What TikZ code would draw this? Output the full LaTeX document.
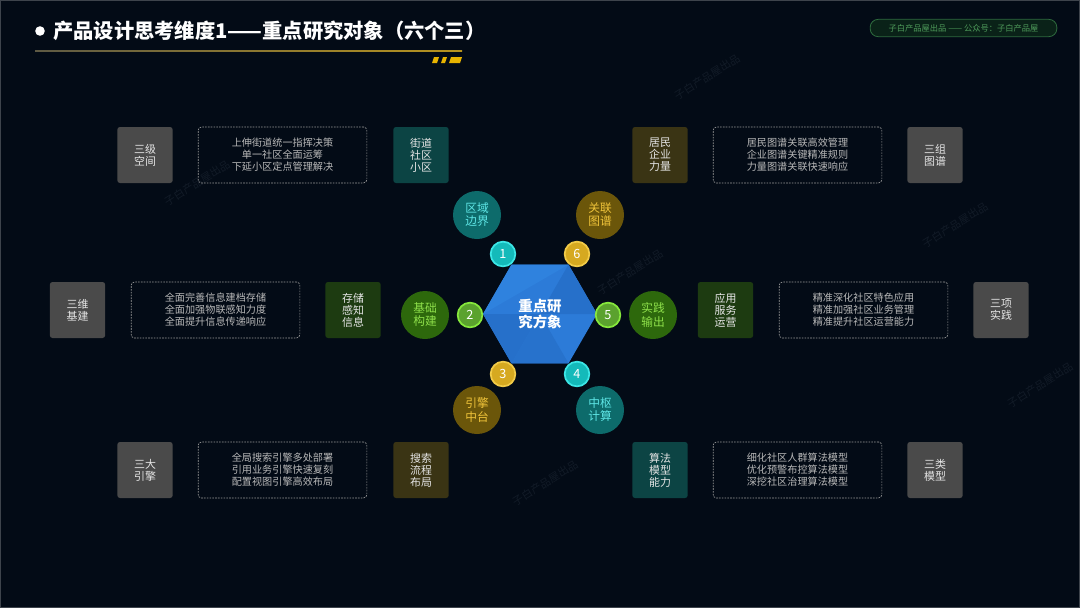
\documentclass[tikz,border=0pt]{standalone}
\usepackage{fontspec}
\setmainfont{Noto Sans CJK SC}
\usetikzlibrary{shapes.geometric}
\definecolor{bg}{HTML}{030B16}
\definecolor{framec}{HTML}{3E444C}
\definecolor{boxgray}{HTML}{4A4A4A}
\definecolor{boxteal}{HTML}{0C4444}
\definecolor{boxolive}{HTML}{3A3414}
\definecolor{boxgreen}{HTML}{1D3B11}
\definecolor{dashc}{HTML}{9A9A9A}
\definecolor{dashtext}{HTML}{B8B8B8}
\definecolor{boxtext}{HTML}{E6E6E6}
\definecolor{hexA}{HTML}{2C7BD8}
\definecolor{hexB}{HTML}{2670CA}
\definecolor{hexC}{HTML}{2F82DE}
\definecolor{ctealfill}{HTML}{0D6B6B}
\definecolor{ctealtext}{HTML}{5EE6E6}
\definecolor{colivefill}{HTML}{6B560A}
\definecolor{colivetext}{HTML}{F0C43A}
\definecolor{cgreenfill}{HTML}{2D680C}
\definecolor{cgreentext}{HTML}{8EE04A}
\definecolor{ntealfill}{HTML}{14BABA}
\definecolor{ntealline}{HTML}{3CE6E6}
\definecolor{nyelfill}{HTML}{D6A920}
\definecolor{nyelline}{HTML}{F2CB48}
\definecolor{ngrnfill}{HTML}{5BA22E}
\definecolor{ngrnline}{HTML}{86E83C}
\definecolor{goldline}{HTML}{B8941E}
\definecolor{goldgray}{HTML}{5E5A44}
\definecolor{goldmark}{HTML}{E8B400}
\definecolor{badgefill}{HTML}{0A2218}
\definecolor{badgeline}{HTML}{2E6B3E}
\definecolor{badgetext}{HTML}{4E9A5A}
\definecolor{wmark}{HTML}{121B27}
\tikzset{
  sqbox/.style={rectangle, rounded corners=2pt, minimum width=41.5pt, minimum height=42pt,
    inner sep=0pt, align=center, text=boxtext, font=\fontsize{8.2}{9}\selectfont},
  graybox/.style={sqbox, fill=boxgray},
  tealbox/.style={sqbox, fill=boxteal},
  olivebox/.style={sqbox, fill=boxolive},
  greenbox/.style={sqbox, fill=boxgreen},
  descbox/.style={rectangle, rounded corners=2.5pt, minimum width=126.5pt, minimum height=42pt,
    inner sep=0pt, align=center, draw=dashc, line width=0.5pt, dash pattern=on 1.2pt off 0.9pt,
    text=dashtext, font=\fontsize{7.6}{9}\selectfont},
  outer/.style={circle, minimum size=36pt, inner sep=0pt, align=center,
    font=\fontsize{8.8}{9.8}\selectfont},
  oteal/.style={outer, fill=ctealfill, text=ctealtext},
  oolive/.style={outer, fill=colivefill, text=colivetext},
  ogreen/.style={outer, fill=cgreenfill, text=cgreentext},
  numc/.style={circle, minimum size=18.5pt, inner sep=0pt, line width=1.3pt, text=white,
    font=\fontsize{9.5}{10}\selectfont},
  nteal/.style={numc, fill=ntealfill, draw=ntealline},
  nyel/.style={numc, fill=nyelfill, draw=nyelline},
  ngrn/.style={numc, fill=ngrnfill, draw=ngrnline},
  wm/.style={text=wmark, rotate=32, font=\fontsize{8}{9}\selectfont, inner sep=0pt}
}
\begin{document}
\begin{tikzpicture}[x=0.75pt, y=-0.75pt]
\useasboundingbox (0,0) rectangle (1080,608);
\fill[bg] (0,0) rectangle (1080,608);
\draw[framec, line width=0.75pt] (0.5,0.5) rectangle (1079.5,607.5);

% watermarks
\node[wm] (w1) at (707,77) {子白产品屋出品};
\node[wm] (w2) at (197,183) {子白产品屋出品};
\node[wm] (w3) at (630,272) {子白产品屋出品};
\node[wm] (w4) at (955,225) {子白产品屋出品};
\node[wm] (w6) at (1040,385) {子白产品屋出品};
\node[wm] (w7) at (545,483) {子白产品屋出品};

% title
\fill[white] (40,31) circle (4.8);
\node[anchor=west, text=white, inner sep=0pt, font=\fontsize{15.2}{16}\bfseries\selectfont] (title) at (53,31) {产品设计思考维度1——重点研究对象（六个三）};
\shade[left color=goldgray, right color=goldline] (35,50.5) rectangle (462,51.6);
\fill[goldmark] (434,57) -- (439,57) -- (437,63) -- (432,63) -- cycle;
\fill[goldmark] (443,57) -- (447,57) -- (445,63) -- (441,63) -- cycle;
\fill[goldmark] (451,57) -- (462,57) -- (460,63) -- (449,63) -- cycle;

% badge
\node[rectangle, rounded corners=6pt, minimum width=140pt, minimum height=13pt, inner sep=0pt,
  fill=badgefill, draw=badgeline, line width=0.6pt, text=badgetext,
  font=\fontsize{6.2}{6.5}\selectfont] (badge) at (963.5,28) {子白产品屋出品 —— 公众号：子白产品屋};

% top row
\node[graybox] (g1) at (145,155) {三级\\空间};
\node[descbox] (d1) at (282.5,155) {上伸街道统一指挥决策\\单一社区全面运筹\\下延小区定点管理解决};
\node[tealbox] (t1) at (421,155) {街道\\社区\\小区};
\node[olivebox] (o1) at (660,155) {居民\\企业\\力量};
\node[descbox] (d6) at (797.5,155) {居民图谱关联高效管理\\企业图谱关键精准规则\\力量图谱关联快速响应};
\node[graybox] (g6) at (935,155) {三组\\图谱};

% middle row
\node[graybox] (g2) at (77.5,310) {三维\\基建};
\node[descbox] (d2) at (215.5,310) {全面完善信息建档存储\\全面加强物联感知力度\\全面提升信息传递响应};
\node[greenbox] (s2) at (353,310) {存储\\感知\\信息};
\node[greenbox] (s5) at (725.5,310) {应用\\服务\\运营};
\node[descbox] (d5) at (863.5,310) {精准深化社区特色应用\\精准加强社区业务管理\\精准提升社区运营能力};
\node[graybox] (g5) at (1001,310) {三项\\实践};

% bottom row
\node[graybox] (g3) at (145,470) {三大\\引擎};
\node[descbox] (d3) at (282.5,470) {全局搜索引擎多处部署\\引用业务引擎快速复刻\\配置视图引擎高效布局};
\node[olivebox] (o3) at (421,470) {搜索\\流程\\布局};
\node[tealbox] (t4) at (660,470) {算法\\模型\\能力};
\node[descbox] (d4) at (797.5,470) {细化社区人群算法模型\\优化预警布控算法模型\\深挖社区治理算法模型};
\node[graybox] (g4) at (935,470) {三类\\模型};

% hexagon
\coordinate (hc) at (540,314);
\coordinate (v0) at (597,314);
\coordinate (v1) at (568.5,264.6);
\coordinate (v2) at (511.5,264.6);
\coordinate (v3) at (483,314);
\coordinate (v4) at (511.5,363.4);
\coordinate (v5) at (568.5,363.4);
\fill[hexA] (v0) -- (v1) -- (v2) -- (v3) -- (v4) -- (v5) -- cycle;
\fill[hexC] (v2) -- (v1) -- (v3) -- cycle;
\fill[hexB] (v3) -- (hc) -- (v4) -- cycle;
\fill[hexB] (v1) -- (v0) -- (hc) -- cycle;
\fill[hexB!85!hexA] (v4) -- (v5) -- (hc) -- cycle;
\node[text=white, align=center, inner sep=0pt, font=\fontsize{10.8}{12.2}\bfseries\selectfont] (hub) at (hc) {重点研\\究方象};

% numbered circles
\node[nteal] (n1) at (503,254) {1};
\node[ngrn] (n2) at (470,315) {2};
\node[nyel] (n3) at (503,374) {3};
\node[nteal] (n4) at (577,374) {4};
\node[ngrn] (n5) at (608,315) {5};
\node[nyel] (n6) at (577,254) {6};

% outer circles
\node[oteal] (c1) at (477,215) {区域\\边界};
\node[ogreen] (c2) at (425,315) {基础\\构建};
\node[oolive] (c3) at (477,410) {引擎\\中台};
\node[oteal] (c4) at (600,410) {中枢\\计算};
\node[ogreen] (c5) at (653,315) {实践\\输出};
\node[oolive] (c6) at (600,215) {关联\\图谱};
\end{tikzpicture}
\end{document}
